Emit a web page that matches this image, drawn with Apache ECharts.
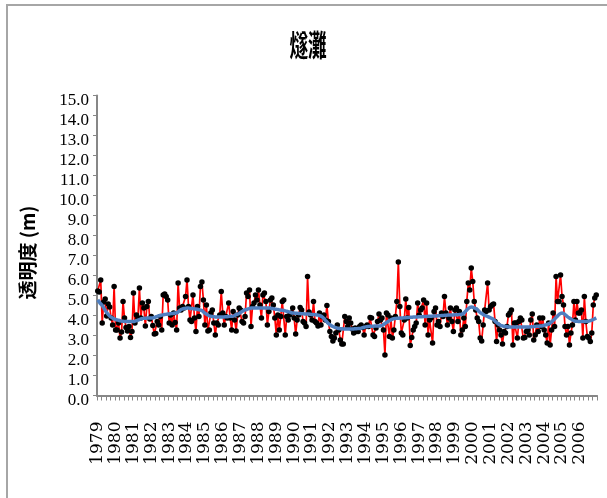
<!DOCTYPE html>
<html>
<head>
<meta charset="utf-8">
<script src="https://cdn.jsdelivr.net/npm/echarts@6/dist/echarts.min.js"></script>
<style>
  html, body { margin: 0; padding: 0; background: #fff; }
  #chart { width: 607px; height: 498px; }
</style>
</head>
<body>
<div id="chart"></div>
<script>
// Year labels on the time axis (one row of 12 monthly values per year below)
const yearLabels = [1979, 1980, 1981, 1982, 1983, 1984, 1985, 1986, 1987, 1988,
  1989, 1990, 1991, 1992, 1993, 1994, 1995, 1996, 1997, 1998, 1999, 2000,
  2001, 2002, 2003, 2004, 2005, 2006];

// Monthly transparency (m), Jan..Dec for each year
const transparency = [
  5.23, 5.17, 5.78, 3.63, 4.67, 4.82, 3.98, 4.57, 4.42, 3.87, 3.53, 5.45,
  3.28, 3.28, 3.62, 2.87, 3.17, 4.70, 3.87, 3.40, 3.23, 3.45, 2.90, 3.20,
  5.12, 3.62, 4.03, 3.87, 5.37, 3.87, 4.62, 4.37, 3.48, 4.45, 4.70, 3.82,
  3.95, 3.50, 3.07, 3.10, 3.70, 3.53, 3.95, 3.28, 5.03, 5.07, 4.95, 4.78,
  3.62, 4.03, 3.53, 4.12, 3.65, 3.28, 5.62, 4.37, 4.28, 4.45, 4.37, 4.95,
  5.78, 4.45, 3.78, 3.70, 5.03, 3.87, 3.20, 4.45, 3.95, 5.45, 5.67, 4.78,
  3.53, 4.53, 3.23, 3.28, 4.12, 4.28, 3.62, 3.03, 3.62, 3.53, 4.03, 5.20,
  4.12, 3.53, 3.95, 3.87, 4.62, 3.87, 3.28, 4.20, 3.78, 3.23, 4.03, 4.37,
  4.28, 3.70, 3.62, 3.95, 5.12, 4.95, 5.28, 3.45, 4.45, 4.62, 5.03, 4.78,
  5.28, 4.53, 3.87, 5.03, 5.12, 4.70, 3.53, 4.20, 4.78, 4.87, 4.53, 3.87,
  3.03, 4.03, 3.28, 3.95, 4.70, 4.78, 3.03, 3.95, 3.78, 4.03, 4.12, 4.37,
  3.87, 3.07, 3.78, 4.03, 4.40, 4.28, 3.70, 3.62, 3.45, 5.95, 4.17, 4.03,
  3.78, 4.70, 3.70, 3.62, 3.48, 4.12, 3.53, 3.95, 4.03, 3.78, 4.50, 3.70,
  3.20, 2.95, 2.73, 2.87, 3.12, 3.53, 3.28, 2.78, 2.57, 2.57, 3.95, 3.70,
  3.45, 3.87, 3.62, 3.33, 3.12, 3.37, 3.20, 3.20, 3.45, 3.53, 3.40, 3.03,
  3.45, 3.53, 3.45, 3.90, 3.87, 3.03, 2.95, 3.37, 3.70, 4.07, 3.78, 3.87,
  3.28, 2.03, 4.12, 4.03, 2.95, 3.87, 2.87, 3.28, 3.95, 4.70, 6.67, 4.45,
  3.12, 3.03, 3.78, 4.83, 3.87, 4.40, 2.50, 2.90, 3.28, 3.45, 3.62, 4.62,
  4.03, 4.28, 4.37, 4.78, 3.53, 4.62, 3.03, 3.78, 3.87, 2.62, 4.20, 4.37,
  3.53, 3.70, 3.45, 4.12, 3.95, 4.95, 4.12, 3.53, 3.87, 4.37, 3.70, 3.20,
  4.28, 4.37, 3.70, 4.20, 3.03, 3.28, 3.87, 3.45, 4.70, 5.62, 5.28, 6.37,
  5.70, 4.70, 4.28, 3.87, 3.70, 2.87, 2.73, 3.53, 4.28, 4.20, 5.62, 4.28,
  4.45, 4.53, 4.57, 3.70, 2.70, 3.53, 3.28, 3.03, 2.57, 3.20, 3.12, 3.45,
  4.03, 4.12, 4.28, 2.53, 3.62, 3.62, 2.87, 3.70, 3.87, 3.78, 2.87, 2.90,
  3.20, 3.28, 3.03, 3.78, 4.07, 2.78, 3.03, 3.53, 3.20, 3.87, 3.45, 3.87,
  3.28, 3.03, 2.62, 3.62, 2.53, 3.28, 4.12, 3.45, 5.95, 4.70, 4.70, 6.03,
  4.95, 4.53, 3.45, 3.03, 3.45, 2.53, 3.12, 3.53, 4.70, 3.78, 4.70, 4.12,
  4.12, 4.28, 2.87, 4.95, 3.70, 2.95, 2.87, 2.70, 3.12, 4.53, 4.87, 5.03
];

// Smoothed long-term trend (m), Jan..Dec for each year
const trend = [
  4.78, 4.68, 4.58, 4.50, 4.38, 4.26, 4.15, 4.06, 3.98, 3.92, 3.87, 3.83,
  3.80, 3.78, 3.76, 3.74, 3.72, 3.71, 3.70, 3.70, 3.70, 3.70, 3.70, 3.70,
  3.70, 3.72, 3.74, 3.77, 3.80, 3.83, 3.85, 3.86, 3.86, 3.87, 3.87, 3.87,
  3.87, 3.88, 3.90, 3.93, 3.96, 3.98, 4.00, 4.02, 4.03, 4.05, 4.06, 4.07,
  4.08, 4.09, 4.10, 4.11, 4.12, 4.12, 4.18, 4.24, 4.30, 4.33, 4.35, 4.36,
  4.37, 4.37, 4.36, 4.35, 4.34, 4.33, 4.33, 4.31, 4.29, 4.27, 4.25, 4.18,
  4.12, 4.07, 4.02, 3.98, 3.96, 3.95, 3.94, 3.93, 3.93, 3.93, 3.93, 3.93,
  3.93, 3.93, 3.94, 3.94, 3.95, 3.96, 3.96, 3.97, 4.00, 4.04, 4.07, 4.10,
  4.15, 4.20, 4.25, 4.28, 4.30, 4.33, 4.35, 4.37, 4.37, 4.38, 4.38, 4.38,
  4.38, 4.38, 4.38, 4.38, 4.38, 4.38, 4.38, 4.38, 4.37, 4.35, 4.34, 4.32,
  4.31, 4.30, 4.28, 4.27, 4.26, 4.25, 4.23, 4.21, 4.19, 4.17, 4.14, 4.12,
  4.12, 4.11, 4.11, 4.10, 4.10, 4.09, 4.09, 4.08, 4.08, 4.08, 4.07, 4.06,
  4.05, 4.05, 4.04, 4.03, 4.02, 4.00, 3.97, 3.92, 3.85, 3.76, 3.68, 3.60,
  3.54, 3.49, 3.45, 3.42, 3.39, 3.37, 3.35, 3.34, 3.34, 3.33, 3.33, 3.33,
  3.33, 3.33, 3.33, 3.33, 3.33, 3.34, 3.34, 3.35, 3.35, 3.37, 3.39, 3.41,
  3.43, 3.44, 3.45, 3.46, 3.46, 3.46, 3.47, 3.47, 3.47, 3.47, 3.48, 3.50,
  3.55, 3.60, 3.65, 3.70, 3.74, 3.78, 3.82, 3.84, 3.85, 3.86, 3.86, 3.87,
  3.88, 3.88, 3.89, 3.89, 3.90, 3.90, 3.91, 3.91, 3.92, 3.92, 3.93, 3.93,
  3.94, 3.94, 3.94, 3.95, 3.95, 3.95, 3.96, 3.96, 3.96, 3.97, 3.97, 3.98,
  3.98, 3.99, 3.99, 4.00, 4.00, 4.01, 4.01, 4.02, 4.02, 4.03, 4.03, 4.03,
  4.04, 4.04, 4.04, 4.05, 4.05, 4.08, 4.12, 4.20, 4.28, 4.35, 4.40, 4.42,
  4.41, 4.38, 4.35, 4.30, 4.22, 4.15, 4.10, 4.05, 4.01, 3.98, 3.95, 3.92,
  3.88, 3.85, 3.80, 3.72, 3.65, 3.59, 3.54, 3.50, 3.48, 3.46, 3.45, 3.44,
  3.43, 3.43, 3.43, 3.43, 3.43, 3.43, 3.43, 3.43, 3.43, 3.43, 3.43, 3.43,
  3.43, 3.43, 3.43, 3.44, 3.44, 3.45, 3.45, 3.46, 3.46, 3.47, 3.47, 3.49,
  3.51, 3.53, 3.55, 3.58, 3.62, 3.68, 3.75, 3.82, 3.90, 3.98, 4.05, 4.10,
  4.13, 4.10, 4.05, 3.98, 3.92, 3.88, 3.83, 3.78, 3.74, 3.72, 3.71, 3.70,
  3.70, 3.70, 3.70, 3.70, 3.70, 3.71, 3.72, 3.74, 3.77, 3.80, 3.84, 3.88
];

// One category per month: "YYYY/M"
const categories = [];
yearLabels.forEach(function (y) {
  for (let m = 1; m <= 12; m++) categories.push(y + '/' + m);
});

const chart = echarts.init(document.getElementById('chart'), null, { renderer: 'canvas' });

const axisGray = '#878787';

chart.setOption({
  animation: false,
  backgroundColor: '#ffffff',
  grid: { left: 97, right: 10, top: 95.5, bottom: 102.5, containLabel: false },
  graphic: [
    {
      type: 'rect',
      shape: { x: 7, y: 5, width: 640, height: 540 },
      style: { fill: null, stroke: '#a6a6a6', lineWidth: 2 },
      silent: true
    },
    {
      type: 'text',
      x: 308, y: 45,
      scaleX: 0.62,
      style: {
        text: '燧灘',
        font: 'bold 30px "Noto Sans CJK JP"',
        fill: '#000',
        align: 'center',
        verticalAlign: 'middle'
      }
    }
  ],
  xAxis: {
    type: 'category',
    data: categories,
    boundaryGap: true,
    axisLine: { lineStyle: { color: axisGray, width: 2 } },
    axisTick: { show: true, interval: 2, length: 5, lineStyle: { color: axisGray, width: 1 } },
    axisLabel: {
      interval: 11,
      rotate: 90,
      margin: 26,
      fontFamily: '"DejaVu Serif"',
      fontSize: 17,
      color: '#000',
      padding: [8, 0, 0, 0],
      formatter: function (v) { return v.split('/')[0]; }
    },
    splitLine: { show: false }
  },
  yAxis: {
    type: 'value',
    min: 0,
    max: 15,
    interval: 1,
    name: '透明度 (m)',
    nameLocation: 'middle',
    nameGap: 60,
    nameRotate: 90,
    nameTextStyle: {
      fontFamily: '"Noto Sans CJK JP"',
      fontWeight: 'bold',
      fontSize: 19,
      color: '#000',
      padding: [0, 14, 0, 0]
    },
    axisLine: { show: true, lineStyle: { color: axisGray, width: 2 } },
    axisTick: { show: true, length: 4, lineStyle: { color: axisGray, width: 1 } },
    axisLabel: {
      margin: 8,
      fontFamily: '"Liberation Serif"',
      fontSize: 17,
      color: '#000',
      verticalAlign: 'top',
      lineHeight: 11,
      formatter: function (v) { return v.toFixed(1); }
    },
    splitLine: { show: false }
  },
  series: [
    {
      name: '透明度',
      type: 'line',
      data: transparency,
      z: 2,
      showAllSymbol: true,
      symbol: 'circle',
      symbolSize: 5.5,
      itemStyle: { color: '#000000' },
      lineStyle: { color: '#ff0000', width: 1.7 }
    },
    {
      name: 'trend',
      type: 'line',
      data: trend,
      z: 3,
      smooth: true,
      symbol: 'none',
      lineStyle: { color: '#4f7fc0', width: 3.5 }
    }
  ]
});
</script>
</body>
</html>
